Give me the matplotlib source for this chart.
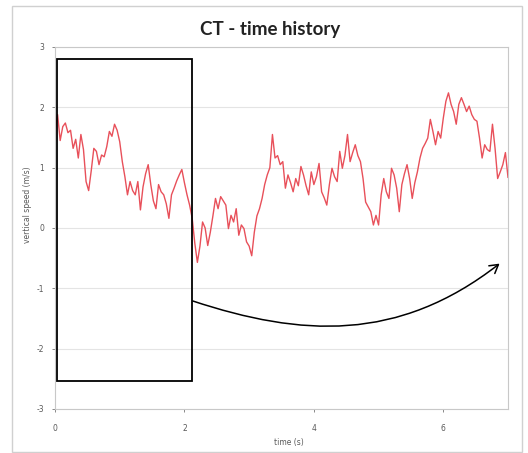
import numpy as np
import matplotlib
matplotlib.use("Agg")
import matplotlib.pyplot as plt
from matplotlib.patches import Rectangle, FancyArrowPatch
from matplotlib.path import Path

plt.rcParams["axes.unicode_minus"] = False

# sample spacing of the recorded signal (s)
dt = 0.04

# vertical speed samples (m/s), one per dt starting at t = 0
speed_0 = [1.60, 1.88, 1.45, 1.68, 1.74, 1.58, 1.62, 1.32, 1.47, 1.16,
           1.55, 1.30, 0.77, 0.62, 0.95, 1.32, 1.27, 1.05, 1.21, 1.18,
           1.35, 1.60, 1.52, 1.72, 1.62]
speed_1 = [1.43, 1.10, 0.85, 0.55, 0.77, 0.62, 0.55, 0.77, 0.30, 0.68,
           0.90, 1.05, 0.72, 0.45, 0.32, 0.72, 0.60, 0.55, 0.40, 0.16,
           0.55, 0.66, 0.78, 0.88, 0.97]
speed_2 = [0.75, 0.55, 0.38, 0.16, -0.25, -0.57, -0.30, 0.10, 0.00, -0.29,
           -0.07, 0.20, 0.49, 0.32, 0.52, 0.45, 0.38, -0.01, 0.21, 0.10,
           0.32, -0.12, 0.05, -0.01, -0.23]
speed_3 = [-0.30, -0.46, -0.07, 0.20, 0.32, 0.49, 0.72, 0.88, 1.00, 1.55,
           1.16, 1.20, 1.05, 1.10, 0.66, 0.88, 0.75, 0.60, 0.82, 0.70,
           1.02, 0.88, 0.70, 0.55, 0.93]
speed_4 = [0.72, 0.85, 1.07, 0.60, 0.50, 0.38, 0.72, 0.99, 0.85, 0.77,
           1.27, 0.99, 1.20, 1.55, 1.10, 1.25, 1.38, 1.20, 1.10, 0.82,
           0.43, 0.35, 0.27, 0.05, 0.21]
speed_5 = [0.05, 0.55, 0.82, 0.60, 0.49, 0.99, 0.88, 0.66, 0.27, 0.72,
           0.90, 1.05, 0.82, 0.49, 0.75, 0.93, 1.16, 1.32, 1.40, 1.49,
           1.80, 1.60, 1.38, 1.60, 1.49]
speed_6 = [1.82, 2.10, 2.24, 2.05, 1.93, 1.72, 2.05, 2.16, 2.05, 1.93,
           2.02, 1.88, 1.80, 1.77, 1.49, 1.16, 1.38, 1.30, 1.27, 1.72,
           1.32, 0.82, 0.93, 1.05, 1.25, 0.84]

x_ticks = [0, 2, 4, 6]
y_ticks = [-3, -2, -1, 0, 1, 2, 3]

speed = np.array(speed_0 + speed_1 + speed_2 + speed_3 + speed_4 + speed_5 + speed_6)
t = np.arange(len(speed)) * dt

W, H = 528, 453
fig = plt.figure(figsize=(W / 100, H / 100), dpi=100)
fig.patch.set_facecolor("white")

# light outer chart frame
fig.add_artist(Rectangle((12 / W, 1 - 452 / H), 510 / W, 446 / H,
                         transform=fig.transFigure, fill=False,
                         edgecolor="#d0d0d0", linewidth=1.0))

ax = fig.add_axes([55 / W, 1 - 409 / H, 453 / W, 362 / H])
ax.set_xlim(0, 7)
ax.set_ylim(-3, 3)
ax.set_xticks(x_ticks)
ax.set_yticks(y_ticks)
ax.tick_params(labelsize=5.5, colors="#595959", length=2, width=0.5,
               pad=6)
ax.tick_params(axis="x", pad=9)
for s in ax.spines.values():
    s.set_color("#c8c8c8")
    s.set_linewidth(0.8)
ax.yaxis.grid(True, color="#e4e4e4", linewidth=0.8)
ax.set_axisbelow(True)

ax.plot(t, speed, color="#e8505a", linewidth=1.0)

# highlight box over the first two seconds
ax.add_patch(Rectangle((0.03, -2.54), 2.09, 5.34, fill=False,
                       edgecolor="black", linewidth=1.3, zorder=5))

# curved arrow leading from the box towards the end of the record
verts = [(2.13, -1.21), (3.8, -1.80), (5.3, -1.90), (6.87, -0.59)]
codes = [Path.MOVETO, Path.CURVE4, Path.CURVE4, Path.CURVE4]
arrow = FancyArrowPatch(path=Path(verts, codes),
                        arrowstyle="->,head_length=6,head_width=3.5",
                        color="black", linewidth=1.1, zorder=5)
ax.add_patch(arrow)

fig.text(270 / W, 1 - 30 / H, "CT - time history", ha="center", va="center",
         fontsize=13.5, fontweight="bold", family="Lato", color="#222222")
fig.text(28 / W, 1 - 205 / H, "vertical speed (m/s)", ha="center", va="center",
         rotation=90, fontsize=5.5, color="#595959")
fig.text(289 / W, 1 - 442 / H, "time (s)", ha="center", va="center",
         fontsize=5.5, color="#595959")

fig.savefig("out.png", dpi=100)
